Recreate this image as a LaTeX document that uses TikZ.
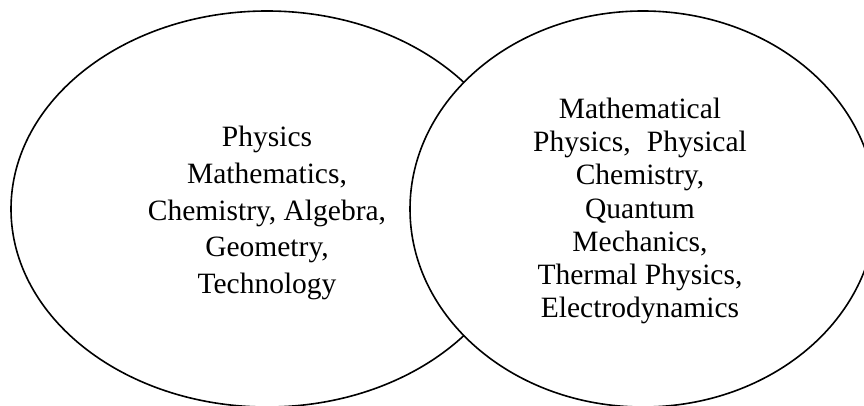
\documentclass[tikz,border=0pt]{standalone}
\usepackage{fontspec}
\setmainfont{Liberation Serif}
\begin{document}
\begin{tikzpicture}[x=1pt,y=-1pt,
  ring/.style={draw=black,fill=white,line width=1.6pt},
  lefttext/.style={align=center,inner sep=0pt,font=\fontsize{29.5}{36.6}\selectfont},
  righttext/.style={align=center,inner sep=0pt,font=\fontsize{29.5}{33.2}\selectfont}]
\useasboundingbox (0,0) rectangle (864,406);
\clip (0,0) rectangle (864,406);
\fill[white] (0,0) rectangle (864,406);
\draw[ring] (267,209) ellipse [x radius=256, y radius=198];
\draw[ring] (643,209) ellipse [x radius=233, y radius=198];
\node[lefttext] (lt) at (267,213) {Physics\\Mathematics,\\Chemistry, Algebra,\\Geometry,\\Technology};
\node[righttext] (rt) at (640,211) {Mathematical\\Physics,\hspace{0.3em} Physical\\Chemistry,\\Quantum\\Mechanics,\\Thermal Physics,\\Electrodynamics};
\end{tikzpicture}
\end{document}
